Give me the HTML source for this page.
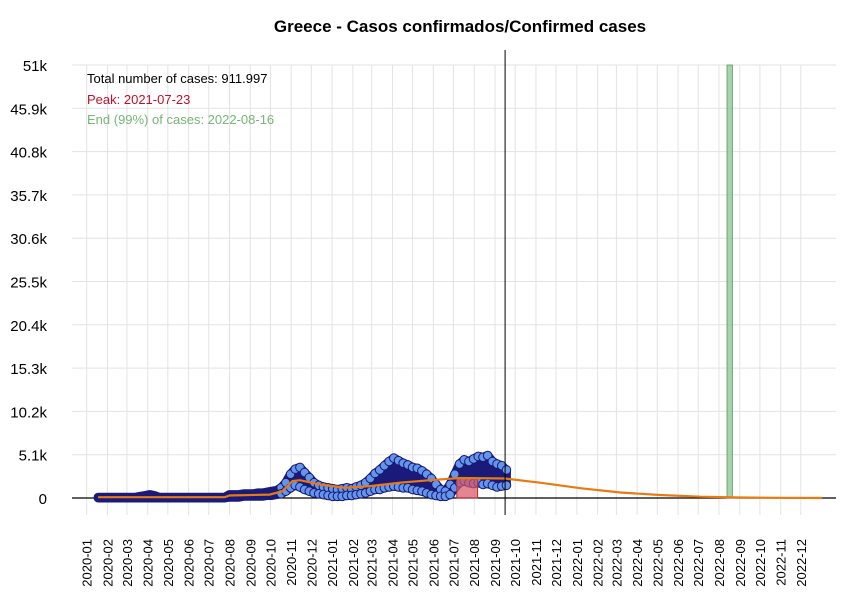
<!DOCTYPE html>
<html><head><meta charset="utf-8">
<style>
body{margin:0;background:#fff;font-family:"Liberation Sans",sans-serif;}
svg{display:block}
</style></head>
<body>
<svg id="chart" width="850" height="600" xmlns="http://www.w3.org/2000/svg">
<rect width="850" height="600" fill="#fff"/>
<text x="460" y="32" text-anchor="middle" font-size="17" font-weight="bold" fill="#000">Greece - Casos confirmados/Confirmed cases</text>
<g id="grid"></g>
<g id="yaxis"></g>
<g id="xaxis"></g>
<g id="marks"></g>
<text x="87" y="83" font-size="13" fill="#000">Total number of cases: 911.997</text>
<text x="87" y="104" font-size="13" fill="#c0102a">Peak: 2021-07-23</text>
<text x="87" y="124" font-size="13" fill="#76b676">End (99%) of cases: 2022-08-16</text>
</svg>
<script>
// y ticks (thousands)
const yTicks = [0, 5.1, 10.2, 15.3, 20.4, 25.5, 30.6, 35.7, 40.8, 45.9, 51];
const yTickLabels = ["0","5.1k","10.2k","15.3k","20.4k","25.5k","30.6k","35.7k","40.8k","45.9k","51k"];
const monthLabels = ["2020-01","2020-02","2020-03","2020-04","2020-05","2020-06","2020-07","2020-08","2020-09","2020-10","2020-11","2020-12","2021-01","2021-02","2021-03","2021-04","2021-05","2021-06","2021-07","2021-08","2021-09","2021-10","2021-11","2021-12","2022-01","2022-02","2022-03","2022-04","2022-05","2022-06","2022-07","2022-08","2022-09","2022-10","2022-11","2022-12"];
// weekly observations (thousands), starting day 17 (since 2020-01-01), step 7 days
const obsStartDay = 17;
const obsLow = [0,0,0,0,0,0,0,0,0,0,0,0,0,0,0,0,0,0,0,0,0,0,0,0,0,0,0,0,0.1,0.1,0.1,0.2,0.2,0.2,0.2,0.2,0.3,0.3,0.4,0.5,0.8,1.2,1.5,1.3,1.0,0.8,0.6,0.5,0.4,0.3,0.2,0.2,0.2,0.3,0.3,0.4,0.5,0.6,0.8,1.0,1.0,1.2,1.3,1.4,1.3,1.2,1.2,1.0,0.9,0.8,0.6,0.4,0.3,0.2,0.2,0.4,1.2,1.8,2.0,1.8,1.7,1.8,1.6,1.7,1.5,1.3,1.4,1.5];
const obsHigh = [0.1,0.1,0.1,0.1,0.1,0.1,0.1,0.1,0.1,0.2,0.3,0.4,0.3,0.1,0.1,0.1,0.1,0.1,0.1,0.1,0.1,0.1,0.1,0.1,0.1,0.1,0.1,0.1,0.4,0.4,0.4,0.5,0.5,0.5,0.6,0.6,0.7,0.8,0.9,1.2,1.8,2.8,3.4,3.6,3.0,2.4,1.8,1.5,1.3,1.2,1.1,1.0,1.1,1.2,1.1,1.3,1.5,1.8,2.3,2.9,3.3,3.8,4.3,4.7,4.4,4.1,3.9,3.6,3.5,3.2,2.8,2.3,1.6,1.0,0.8,1.6,2.8,4.0,4.5,4.3,4.6,4.9,4.8,5.0,4.3,4.0,3.8,3.3];
// fitted curve
const fitDays = [17,206,213,273,292,307,318,348,385,422,467,512,557,624,676,736,796,855,915,975,1034,1097];
const fitVals = [0.1,0.1,0.3,0.4,0.8,2.0,2.1,1.6,1.2,1.4,1.8,2.1,2.35,2.3,1.8,1.15,0.65,0.35,0.15,0.06,0.02,0];
const peakStartDay = 552, peakEndDay = 583, peakVal = 2.3;
const lastDataDay = 624;
const endStartDay = 955, endEndDay = 963;
const monthStartDays = [0,31,60,91,121,152,182,213,244,274,305,335,366,397,425,456,486,517,547,578,609,639,670,700,731,762,790,821,851,882,912,943,974,1004,1035,1065];

const NS="http://www.w3.org/2000/svg";
const X0=86.7, PXD=0.6705, Y0=498, PXK=433/51;
const L=72, R=836, T=65, B=515;
function x(d){return X0+d*PXD;}
function y(v){return Y0-v*PXK;}
function mk(tag,attrs,parent){const e=document.createElementNS(NS,tag);for(const k in attrs)e.setAttribute(k,attrs[k]);parent.appendChild(e);return e;}
const grid=document.getElementById('grid'),ya=document.getElementById('yaxis'),xa=document.getElementById('xaxis'),m=document.getElementById('marks');
yTicks.forEach((t,i)=>{
  const l=mk('line',{x1:L,x2:R,y1:y(t),y2:y(t),stroke:'#e3e3e3','stroke-width':1},grid);
  
  
  const tx=mk('text',{x:47,y:y(t)+6,'text-anchor':'end','font-size':15,fill:'#000'},ya);
  tx.textContent=yTickLabels[i];
  
  
});
monthStartDays.forEach((d,i)=>{
  const l=mk('line',{x1:x(d),x2:x(d),y1:T,y2:B,stroke:'#e3e3e3','stroke-width':1},grid);
  
  
  const tx=mk('text',{x:0,y:0,'text-anchor':'end','font-size':13,fill:'#000',transform:`translate(${x(d)+5},539) rotate(-90)`},xa);
  tx.textContent=monthLabels[i];
  
  
});
// baseline
const bl=mk('line',{x1:L,x2:R,y1:y(0),y2:y(0),stroke:'#000','stroke-width':1.2},m);


// end band
const eb=mk('rect',{x:x(endStartDay),y:T,width:x(endEndDay)-x(endStartDay),height:y(0)-T,fill:'#8fc48f','fill-opacity':0.75,stroke:'#6aa86a'},m);


// observations band as continuous polygon
let up=obsHigh.map((v,i)=>x(obsStartDay+i*7).toFixed(1)+','+y(v).toFixed(1));
let dn=obsLow.map((v,i)=>x(obsStartDay+i*7).toFixed(1)+','+y(v).toFixed(1)).reverse();
const band=mk('polygon',{points:up.concat(dn).join(' '),fill:'#1a1a7a',stroke:'#1a1a7a','stroke-width':9,'stroke-linejoin':'round'},m);


obsLow.forEach((lo,i)=>{
  const d=obsStartDay+i*7, hi=obsHigh[i];
  if(hi-lo<0.6) return;
  [hi,lo].forEach(v=>{
    const c=mk('circle',{cx:x(d),cy:y(v),r:4.3,fill:'#6495ed',stroke:'#191970','stroke-width':1},m);
    
    
  });
});
// peak rect
const pr=mk('rect',{x:x(peakStartDay),y:y(peakVal),width:x(peakEndDay)-x(peakStartDay),height:y(0)-y(peakVal),fill:'#d9535f','fill-opacity':0.7,stroke:'#b02a3a'},m);


// fit
const fp=mk('path',{d:fitDays.map((d,i)=>(i?'L':'M')+x(d).toFixed(1)+','+y(fitVals[i]).toFixed(1)).join(''),fill:'none',stroke:'#e87a10','stroke-width':2.2},m);


// last data line
const vl=mk('line',{x1:x(lastDataDay),x2:x(lastDataDay),y1:50,y2:B,stroke:'#000','stroke-width':1},m);


</script>
</body></html>
